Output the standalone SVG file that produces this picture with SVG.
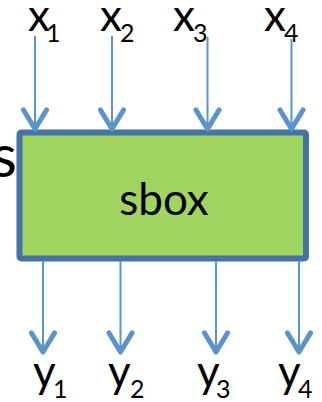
<svg xmlns="http://www.w3.org/2000/svg" width="322" height="402" viewBox="0 0 322 402">
<style>
.lbl{font-family:Lato,"Open Sans","Liberation Sans",sans-serif;fill:#000;font-size:44px}
.s{font-size:25px}
.wire{stroke:#5b93cc;stroke-width:2;fill:none}
</style>
<defs>
<marker id="ah" markerUnits="userSpaceOnUse" markerWidth="30" markerHeight="30" refX="0" refY="0" viewBox="-24 -15 28 30" orient="auto" overflow="visible">
<path d="M-19,-11.5 L0,0 L-19,11.5" fill="none" stroke="#5b93cc" stroke-width="5" stroke-linecap="round" stroke-linejoin="round"/>
</marker>
</defs>
<rect width="322" height="402" fill="#fff"/>
<text class="lbl" x="-9" y="177" style="font-size:60px">s</text>
<g id="sbox">
<rect x="19.5" y="132.5" width="286.5" height="126" rx="2" fill="#9fd560" stroke="#4672a4" stroke-width="6"/>
<text class="lbl" x="164" y="215" text-anchor="middle">sbox</text>
</g>
<g id="inputs">
<text id="x1" class="lbl" x="28" y="31">x<tspan class="s" x="46" y="42">1</tspan></text>
<text id="x2" class="lbl" x="100" y="31">x<tspan class="s" x="120" y="42">2</tspan></text>
<text id="x3" class="lbl" x="173" y="31">x<tspan class="s" x="193" y="42">3</tspan></text>
<text id="x4" class="lbl" x="264" y="31">x<tspan class="s" x="284" y="42">4</tspan></text>
</g>
<g id="outputs">
<text id="y1" class="lbl" x="33" y="387">y<tspan class="s" x="53" y="398">1</tspan></text>
<text id="y2" class="lbl" x="108" y="387">y<tspan class="s" x="130" y="398">2</tspan></text>
<text id="y3" class="lbl" x="197" y="387">y<tspan class="s" x="216" y="398">3</tspan></text>
<text id="y4" class="lbl" x="278" y="387">y<tspan class="s" x="298" y="398">4</tspan></text>
</g>
<g id="connectors">
<line class="wire" x1="35" y1="36" x2="35" y2="129" marker-end="url(#ah)"/>
<line class="wire" x1="112" y1="36" x2="112" y2="129" marker-end="url(#ah)"/>
<line class="wire" x1="207.5" y1="37" x2="207.5" y2="129" marker-end="url(#ah)"/>
<line class="wire" x1="291.5" y1="39" x2="291.5" y2="129" marker-end="url(#ah)"/>
<line class="wire" x1="43" y1="261" x2="43" y2="352" marker-end="url(#ah)"/>
<line class="wire" x1="120.5" y1="261" x2="120.5" y2="352" marker-end="url(#ah)"/>
<line class="wire" x1="216" y1="261" x2="216" y2="352" marker-end="url(#ah)"/>
<line class="wire" x1="299" y1="261" x2="299" y2="352" marker-end="url(#ah)"/>
</g>
</svg>
